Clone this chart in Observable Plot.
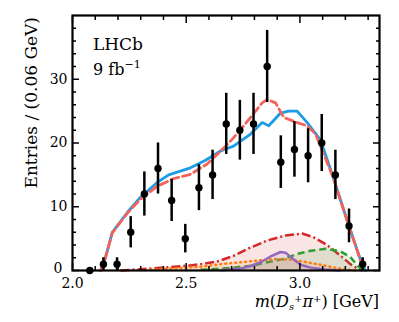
<!DOCTYPE html>
<html><head><meta charset="utf-8">
<script src="https://cdn.jsdelivr.net/npm/d3@7"></script>
<script src="https://cdn.jsdelivr.net/npm/@observablehq/plot@0.6"></script>
<style>
body{margin:0;background:#fff}
#chart{width:399px;height:322px}
#chart svg, #chart svg text { font-family: "DejaVu Serif", serif !important; }
</style>
</head><body><div id="chart"></div>
<script>
// ---- data ----
const massBins = [2.076,2.136,2.196,2.256,2.316,2.376,2.436,2.496,2.556,2.616,2.676,2.736,2.796,2.856,2.916,2.976,3.036,3.096,3.156,3.216,3.276];
const counts   = [0,1,1,6,12,16,11,5,13,15,23,22,23,32,17,19,18,20,15,7,1];

const totalMass  = [2.123,2.141,2.175,2.241,2.299,2.372,2.423,2.519,2.585,2.651,2.708,2.783,2.834,2.863,2.915,2.950,2.988,3.032,3.090,3.142,3.208,3.267,3.288];
const totalFit   = [0,1.5,6.0,9.1,11.5,13.8,15.0,16.1,17.3,18.75,19.5,21.4,23.2,22.7,24.7,25.0,25.0,23.2,20.5,15.1,7.8,1.6,0];

const altMass    = [2.123,2.141,2.175,2.241,2.299,2.372,2.444,2.519,2.592,2.651,2.708,2.783,2.834,2.856,2.893,2.929,2.988,3.032,3.069,3.104,3.142,3.208,3.267,3.288];
const altFit     = [0,1.5,5.9,9.0,11.2,13.2,14.4,15.1,16.7,18.7,20.8,24.0,26.3,26.8,26.3,24.0,23.2,22.7,21.4,18.3,15.0,7.8,1.5,0];

const redMass    = [2.211,2.343,2.519,2.563,2.636,2.708,2.783,2.856,2.937,3.010,3.061,3.120,3.179,3.222,3.258,3.275];
const redComp    = [0,0.3,0.8,1.0,1.4,2.3,3.6,4.7,5.5,5.8,5.2,4.0,2.3,1.0,0.2,0];

const greenMass  = [2.563,2.695,2.796,2.856,2.928,2.988,3.047,3.113,3.179,3.222,3.258,3.280];
const greenComp  = [0.1,0.4,0.8,1.3,1.8,2.6,3.1,3.4,3.0,2.1,0.6,0];

const orangeMass = [2.343,2.475,2.563,2.651,2.739,2.827,2.893,2.959,3.032,3.120,3.192,3.245];
const orangeComp = [0.1,0.4,0.6,1.0,1.3,1.6,1.8,1.7,1.3,0.7,0.2,0];

const purpleMass = [2.651,2.739,2.783,2.827,2.871,2.915,2.937,2.967,3.003,3.047,3.113,3.179];
const purpleComp = [0.05,0.3,0.7,1.3,2.2,2.9,2.8,1.9,0.9,0.45,0.15,0];

const xMajor = [2.0,2.5,3.0];
const xMinor = [2.1,2.2,2.3,2.4,2.6,2.7,2.8,2.9,3.1,3.2,3.3];
const yMajor = [0,10,20,30];
const yMinor = [2,4,6,8,12,14,16,18,22,24,26,28,32,34,36,38];

// ---- build ----
const series = (xs, ys) => xs.map((x, i) => ({x, y: ys[i]}));
const pts = massBins.map((m, i) => ({m, n: counts[i]}));

const comp = (data, color, dash, fillOp) => [
  Plot.areaY(data, {x: "x", y: "y", fill: color, fillOpacity: fillOp}),
  Plot.line(data, {x: "x", y: "y", stroke: color, strokeWidth: 2.5, strokeDasharray: dash, strokeLinecap: dash === "1,4" ? "round" : "butt"})
];

const inward = (anchor, ticks, size) => {
  const o = {anchor, tickSize: size, tickFormat: () => "", label: null, strokeWidth: 1.5};
  if (anchor === "bottom") o.dy = -size;
  if (anchor === "top") o.dy = size;
  if (anchor === "left") o.dx = size;
  if (anchor === "right") o.dx = -size;
  return (anchor === "bottom" || anchor === "top") ? Plot.axisX(ticks, o) : Plot.axisY(ticks, o);
};

const chart = Plot.plot({
  width: 399, height: 322,
  marginLeft: 72, marginRight: 20, marginTop: 15, marginBottom: 52,
  style: {fontSize: "14px", background: "white", color: "black"},
  x: {domain: [2.0, 3.35]},
  y: {domain: [0, 40]},
  marks: [
    ...comp(series(redMass, redComp), "#d62728", "9,3,2,3", 0.12),
    ...comp(series(greenMass, greenComp), "#2ca02c", "7,4", 0.12),
    ...comp(series(orangeMass, orangeComp), "#ff7f0e", "1,4", 0.12),
    ...comp(series(purpleMass, purpleComp), "#9467bd", null, 0.12),
    Plot.line(series(totalMass, totalFit), {x: "x", y: "y", stroke: "#1a9de6", strokeWidth: 2.8}),
    Plot.line(series(altMass, altFit), {x: "x", y: "y", stroke: "#f4625a", strokeWidth: 2.8, strokeDasharray: "8,4"}),
    Plot.ruleX(pts.filter(d => d.n > 0), {x: "m", y1: d => d.n - Math.sqrt(d.n), y2: d => d.n + Math.sqrt(d.n), stroke: "black", strokeWidth: 2.5}),
    Plot.dot(pts, {x: "m", y: "n", r: 3.7, fill: "black"}),
    inward("bottom", xMajor, 7), inward("bottom", xMinor, 4),
    inward("top", xMajor, 7), inward("top", xMinor, 4),
    inward("left", yMajor, 7), inward("left", yMinor, 4),
    inward("right", yMajor, 7), inward("right", yMinor, 4),
    Plot.axisX(xMajor, {anchor: "bottom", tickSize: 0, tickPadding: 8, label: null, tickFormat: d3.format(".1f"), fontSize: 14}),
    Plot.axisY(yMajor.filter(d => d > 0), {anchor: "left", tickSize: 0, tickPadding: 5, label: null, fontSize: 14}),
    Plot.axisY(yMajor.filter(d => d === 0), {anchor: "left", tickSize: 0, tickPadding: 10, dy: -2, label: null, fontSize: 14}),
    Plot.frame({stroke: "black", strokeWidth: 2.2})
  ]
});
document.getElementById("chart").appendChild(chart);

// ---- text with math formatting ----
const svg = d3.select(chart);
svg.append("text").attr("x", 93).attr("y", 50).attr("text-anchor", "start").attr("font-size", 17).attr("fill", "black").text("LHCb");
const t2 = svg.append("text").attr("x", 93).attr("y", 75).attr("text-anchor", "start").attr("font-size", 16).attr("fill", "black");
t2.append("tspan").text("9 fb");
t2.append("tspan").attr("font-size", 11).attr("dy", -7).text("−1");

svg.append("text")
  .attr("transform", "translate(37,17) rotate(-90)")
  .attr("text-anchor", "end")
  .attr("font-size", 17).attr("fill", "black")
  .text("Entries / (0.06 GeV)");

const xl = svg.append("text").attr("x", 379).attr("y", 307).attr("text-anchor", "end")
  .attr("font-size", 16).attr("fill", "black");
xl.append("tspan").attr("font-style", "italic").text("m");
xl.append("tspan").text("(");
xl.append("tspan").attr("font-style", "italic").text("D");
xl.append("tspan").attr("font-style", "italic").attr("font-size", 10).attr("dy", 3).text("s");
xl.append("tspan").attr("font-size", 10).attr("dy", -8).text("+");
xl.append("tspan").attr("font-style", "italic").attr("dy", 5).text("π");
xl.append("tspan").attr("font-size", 10).attr("dy", -5).text("+");
xl.append("tspan").attr("dy", 5).text(") [GeV]");
</script>
</body></html>
